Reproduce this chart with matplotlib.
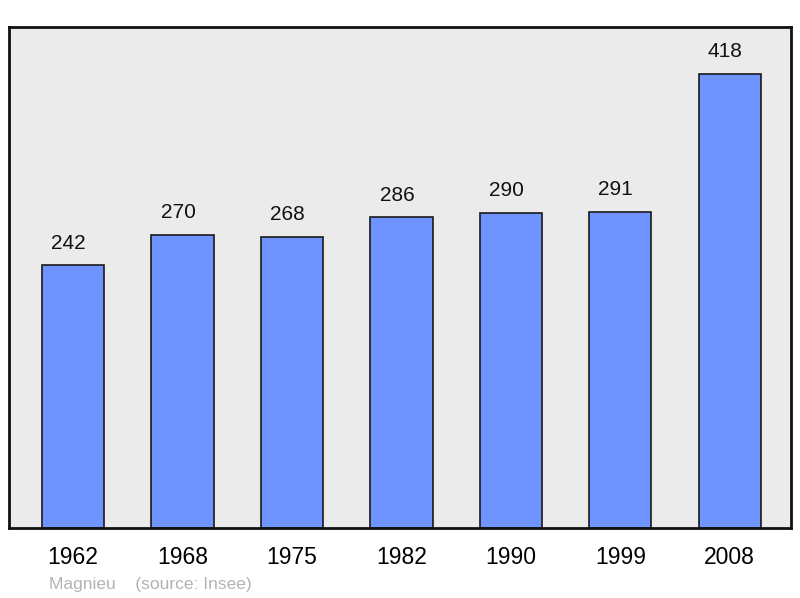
import matplotlib.pyplot as plt

# population data for Magnieu
years = ["1962", "1968", "1975", "1982", "1990", "1999", "2008"]
population = [242, 270, 268, 286, 290, 291, 418]

plt.rcParams['font.family'] = ['Liberation Sans', 'DejaVu Sans']

fig = plt.figure(figsize=(8, 5.98), dpi=100)
ax = fig.add_axes([9 / 800, 70 / 598, 782 / 800, 501 / 598])
ax.set_facecolor("#ebebeb")

xs = list(range(len(years)))
ax.bar(xs, population, width=0.57, color="#7094ff", edgecolor="#1a1a1a", linewidth=1.2, zorder=2)

# value labels sit a bit left of the bar centre, like the original
for x, v in zip(xs, population):
    ax.annotate(str(v), (x, v), xytext=(-3.2, 9), textcoords="offset points",
                ha="center", va="bottom", fontsize=15, color="#111111")

ax.set_xlim(-0.585, 6.56)
ax.set_ylim(0, 461)
ax.set_xticks(xs)
ax.set_xticklabels(years, fontsize=16.5)
ax.tick_params(axis="x", length=0, pad=13)
ax.set_yticks([])

for s in ax.spines.values():
    s.set_linewidth(2)
    s.set_color("#111111")

fig.text(49 / 800, 1 - 584 / 598, "Magnieu    (source: Insee)", fontsize=12.5,
         color="#b3b3b3", va="center", ha="left")

fig.savefig("out.png", dpi=100)
